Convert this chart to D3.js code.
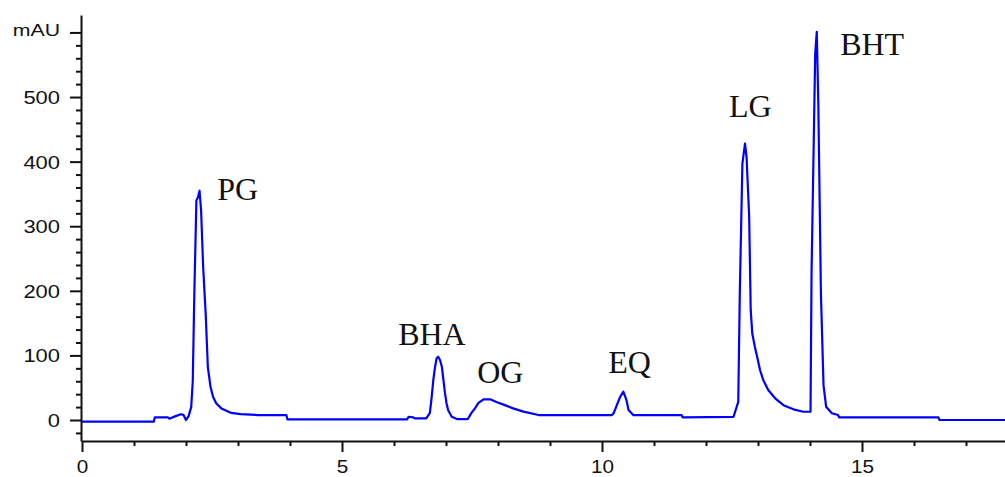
<!DOCTYPE html>
<html>
<head>
<meta charset="utf-8">
<script src="https://cdn.jsdelivr.net/npm/d3@7"></script>
<style>
    html, body { margin: 0; padding: 0; background: #fff; }
    svg { display: block; }
</style>
</head>
<body>
<svg id="chart"></svg>
<script>
// retention time (min) and absorbance (mAU)
const times = [0, 1.38, 1.40, 1.65, 1.68, 1.80, 1.90, 1.95, 2.00, 2.05, 2.10, 2.13, 2.16, 2.20, 2.23, 2.26, 2.29, 2.33, 2.38, 2.42, 2.47, 2.52, 2.58, 2.68, 2.87, 3.05, 3.40, 3.93, 3.95, 6.25, 6.28, 6.37, 6.40, 6.62, 6.69, 6.725, 6.756, 6.79, 6.82, 6.85, 6.885, 6.92, 6.95, 6.98, 7.01, 7.04, 7.11, 7.21, 7.42, 7.49, 7.56, 7.62, 7.72, 7.85, 7.97, 8.13, 8.29, 8.49, 8.78, 10.19, 10.22, 10.35, 10.41, 10.47, 10.51, 10.60, 11.53, 11.55, 12.53, 12.62, 12.65, 12.70, 12.75, 12.78, 12.83, 12.86, 12.89, 12.94, 12.99, 13.04, 13.10, 13.20, 13.33, 13.49, 13.68, 13.87, 14.01, 14.03, 14.10, 14.13, 14.16, 14.21, 14.26, 14.31, 14.42, 14.54, 14.56, 16.47, 16.49, 17.75];
const mAU = [-2.6, -2.6, 4.2, 4.2, 2, 6, 9, 8, 0, 6, 20, 60, 195, 340, 345, 355, 325, 237, 162, 82, 52, 36, 26, 18, 11, 9, 7.7, 7.7, 1, 1, 5, 4, 2.5, 2.5, 11, 36, 62, 82.5, 95.5, 98, 93, 82.5, 62, 42, 26, 15.5, 5, 1.5, 1.5, 11, 18.5, 26, 32, 32, 28, 23, 18, 13, 7.7, 7.7, 10, 36, 44, 31, 15.5, 7.7, 7.7, 4.2, 5, 28, 196, 397, 428, 407, 315, 170, 134, 113, 95.5, 77, 62, 46, 33.6, 23, 16.5, 12.8, 12.8, 229, 567, 601, 490, 196, 54, 20.6, 10.4, 7.7, 4.2, 4.2, 0, 0];

// peak annotations: name and where the label sits (time, mAU of baseline)
const peakNames = ["PG", "BHA", "OG", "EQ", "LG", "BHT"];
const peakLabelTimes = [2.6, 6.08, 7.6, 10.12, 12.44, 14.58];
const peakLabelValues = [340, 116, 57, 73, 469, 565];

const yMajorTicks = [0, 100, 200, 300, 400, 500, 600];
const xMajorTicks = [0, 5, 10, 15];

const width = 1005, height = 477;
const svg = d3.select("#chart").attr("width", width).attr("height", height);

const x = d3.scaleLinear().domain([0, 17.75]).range([82, 1005]);
const y = d3.scaleLinear().domain([-32.5, 627]).range([441, 15]);

const data = times.map((t, i) => ({ t: t, v: mAU[i] }));

// minor ticks first (drawn under the major ones)
const yMinor = d3.range(-20, 601, 20).filter(d => d % 100 !== 0);
const xMinor = d3.range(0, 18, 1).filter(d => d % 5 !== 0);

svg.append("g")
    .attr("transform", `translate(${x(0) - 1},0)`)
    .call(d3.axisLeft(y).tickValues(yMinor).tickSize(5).tickSizeOuter(0).tickFormat(""))
    .call(g => g.select(".domain").remove());

svg.append("g")
    .attr("transform", `translate(0,${y(-32.5)})`)
    .call(d3.axisBottom(x).tickValues(xMinor).tickSize(5).tickSizeOuter(0).tickFormat(""))
    .call(g => g.select(".domain").remove());

// y axis
const yAxis = svg.append("g")
    .attr("transform", `translate(${x(0) - 1},0)`)
    .call(d3.axisLeft(y).tickValues(yMajorTicks).tickSize(11).tickSizeOuter(0)
        .tickFormat(d => d === 600 ? "mAU" : d));

yAxis.selectAll("text")
    .attr("x", 0)
    .attr("dy", "0.36em")
    .attr("font-family", "'Liberation Sans', Arial, sans-serif")
    .attr("font-size", d => d === 600 ? "16px" : "18px")
    .attr("fill", "#111")
    .attr("transform", d => d === 600 ? "translate(-21,-3) scale(1.33,1)" : "translate(-21,0) scale(1.22,1)");

// x axis
const xAxis = svg.append("g")
    .attr("transform", `translate(0,${y(-32.5)})`)
    .call(d3.axisBottom(x).tickValues(xMajorTicks).tickSize(11).tickSizeOuter(0));

xAxis.selectAll("text")
    .attr("y", 0)
    .attr("dy", 0)
    .attr("font-family", "'Liberation Sans', Arial, sans-serif")
    .attr("font-size", "18px")
    .attr("fill", "#111")
    .attr("transform", "translate(0,32) scale(1.15,1)");

svg.selectAll(".domain, .tick line").attr("stroke", "#111").attr("stroke-width", 2);

// chromatogram trace
const line = d3.line().x(d => x(d.t)).y(d => y(d.v));
svg.append("path")
    .datum(data)
    .attr("d", line)
    .attr("fill", "none")
    .attr("stroke", "#0000ff")
    .attr("stroke-width", 2.2)
    .attr("stroke-linejoin", "round");

// peak labels
svg.append("g").selectAll("text")
    .data(peakNames)
    .join("text")
    .attr("x", (d, i) => x(peakLabelTimes[i]))
    .attr("y", (d, i) => y(peakLabelValues[i]))
    .attr("font-family", "'Liberation Serif', 'Times New Roman', serif")
    .attr("font-size", "32px")
    .attr("fill", "#111")
    .text(d => d);
</script>
</body>
</html>
